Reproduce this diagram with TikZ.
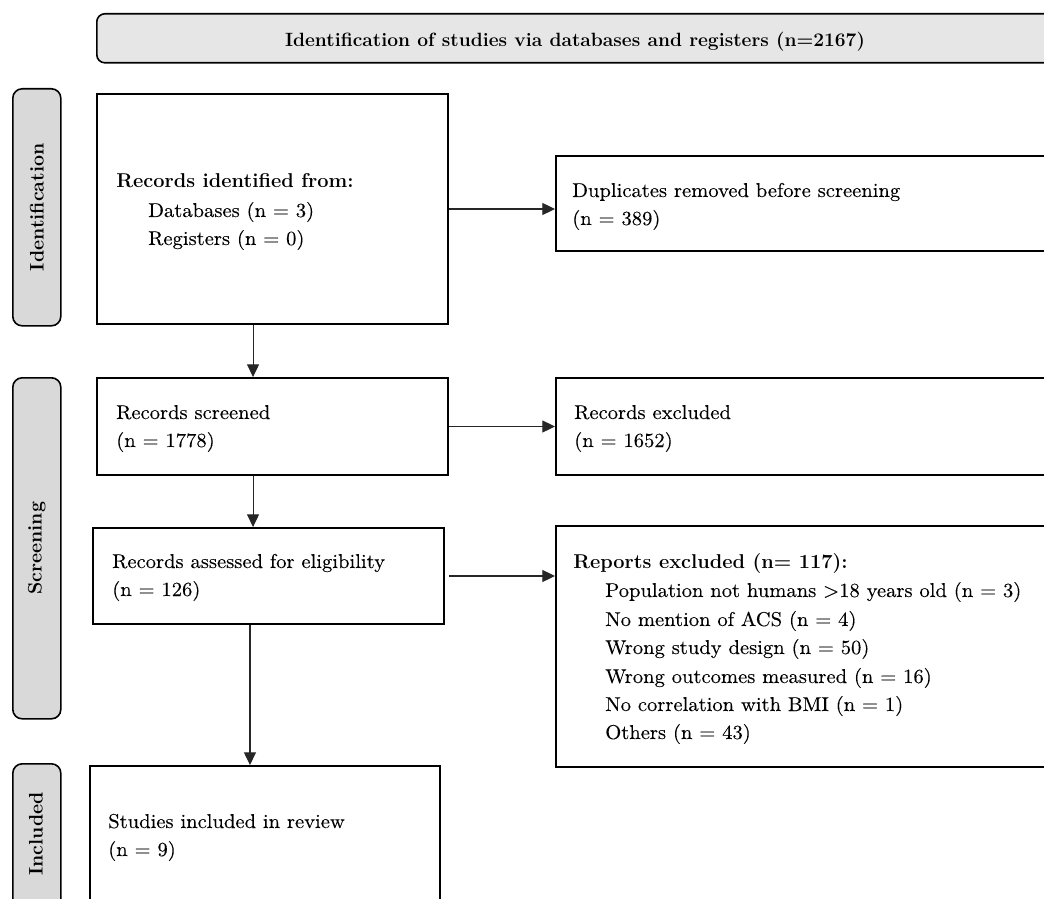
\documentclass[tikz,border=0pt]{standalone}
\usepackage{fontspec}
\usetikzlibrary{arrows.meta}
\newfontfamily\regfont{lmroman10-regular.otf}[FakeStretch=1.03, FakeBold=0.15]
\definecolor{hdrgray}{HTML}{E6E6E6}
\definecolor{sidegray}{HTML}{D9D9D9}
\tikzset{
  x=0.75pt, y=-0.75pt,
  box/.style={draw=black, line width=1.5pt, fill=white, anchor=north west, inner sep=0pt},
  hdr/.style={draw=black, line width=1.2pt, fill=hdrgray, rounded corners=6pt, anchor=north west, inner sep=0pt},
  side/.style={draw=black, line width=1.2pt, fill=sidegray, rounded corners=7pt, anchor=north west, inner sep=0pt},
  txt/.style={anchor=base west, inner sep=0pt, font=\regfont\fontsize{15}{18}\selectfont},
  btxt/.style={anchor=base west, inner sep=0pt, font=\fontsize{15}{18}\selectfont\bfseries},
  sidetxt/.style={rotate=90, inner sep=0pt, font=\fontsize{14.7}{17}\selectfont\bfseries},
  arr/.style={draw=black!85, line width=0.8pt, -{Triangle[length=9.5pt,width=9pt]}},
}
\begin{document}
\begin{tikzpicture}
\useasboundingbox (0,0) rectangle (1044,898);
\clip (0,0) rectangle (1044,898);
\fill[white] (0,0) rectangle (1044,898);

% header
\node[hdr, minimum width=723pt, minimum height=36.75pt] (header) at (96,13) {};
\node[anchor=base, inner sep=0pt, font=\fontsize{14.4}{17}\selectfont\bfseries] (headertxt) at (575,47) {Identification of studies via databases and registers (n=2167)};

% side labels
\node[side, minimum width=36pt, minimum height=177.75pt] (sideid) at (12,88) {};
\node[sidetxt] (sideidtxt) at (sideid.center) {Identification};
\node[side, minimum width=36pt, minimum height=255.75pt] (sidescr) at (12,377) {};
\node[sidetxt] (sidescrtxt) at (sidescr.center) {Screening};
\node[side, minimum width=36pt, minimum height=120pt] (sideinc) at (12,763) {};
\node[sidetxt] (sideinctxt) at (36,834) {Included};

% boxes
\node[box, minimum width=263.25pt, minimum height=172.5pt] (box1) at (96,93) {};
\node[btxt] (b1l1) at (116,188) {Records identified from:};
\node[txt] (b1l2) at (148,217) {Databases (n = 3)};
\node[txt] (b1l3) at (148,245) {Registers (n = 0)};

\node[box, minimum width=378.75pt, minimum height=71.25pt] (dup) at (555,155) {};
\node[txt] (dupl1) at (572,197) {Duplicates removed before screening};
\node[txt] (dupl2) at (572,225) {(n = 389)};

\node[box, minimum width=263.25pt, minimum height=72.75pt] (scr) at (96,377) {};
\node[txt] (scrl1) at (116,419) {Records screened};
\node[txt] (scrl2) at (116,447) {(n = 1778)};

\node[box, minimum width=378.75pt, minimum height=72.75pt] (exc) at (555,377) {};
\node[txt] (excl1) at (574,419) {Records excluded};
\node[txt] (excl2) at (574,447) {(n = 1652)};

\node[box, minimum width=263.25pt, minimum height=72pt] (elig) at (92,527) {};
\node[txt] (eligl1) at (112,568) {Records assessed for eligibility};
\node[txt] (eligl2) at (112,596) {(n = 126)};

\node[box, minimum width=378.75pt, minimum height=180.75pt] (rep) at (555,525) {};
\node[btxt] (repl1) at (573,568) {Reports excluded (n= 117):};
\node[txt] (repl2) at (605,597) {Population not humans >18 years old (n = 3)};
\node[txt] (repl3) at (605,626) {No mention of ACS (n = 4)};
\node[txt] (repl4) at (605,654) {Wrong study design (n = 50)};
\node[txt] (repl5) at (605,683) {Wrong outcomes measured (n = 16)};
\node[txt] (repl6) at (605,711) {No correlation with BMI (n = 1)};
\node[txt] (repl7) at (605,739) {Others (n = 43)};

\node[box, minimum width=262.5pt, minimum height=120pt] (inc) at (89,765) {};
\node[txt] (incl1) at (108,828) {Studies included in review};
\node[txt] (incl2) at (108,856) {(n = 9)};

% connectors
\draw[arr] (box1.east) -- (box1.east -| dup.west);
\draw[arr] (scr.east) -- (scr.east -| exc.west);
\draw[arr] ([xshift=3pt]elig.east) -- (elig.east -| rep.west);
\draw[arr] ([xshift=-14.6pt]box1.south) -- ([xshift=-14.6pt]box1.south |- scr.north);
\draw[arr] ([xshift=-14.6pt]scr.south) -- ([xshift=-14.6pt]scr.south |- elig.north);
\draw[arr] ([xshift=-13.9pt]elig.south) -- ([xshift=-13.9pt]elig.south |- inc.north);
\end{tikzpicture}
\end{document}
